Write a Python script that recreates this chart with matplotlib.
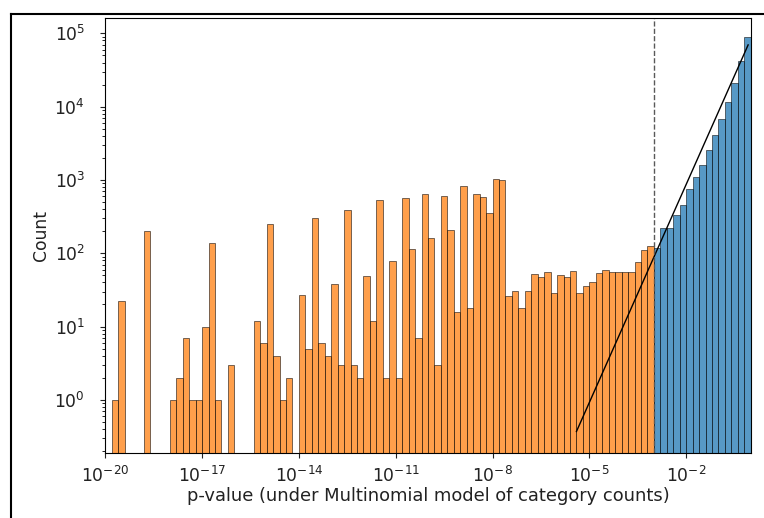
import numpy as np
import matplotlib
matplotlib.use("Agg")
import matplotlib.pyplot as plt
from matplotlib.lines import Line2D
from matplotlib.ticker import NullLocator

# histogram of p-values, 100 log-spaced bins between 1e-20 and 1
bin_lo, bin_hi, n_bins = -20, 0, 100
counts = [
    0, 1, 22, 0, 0, 0, 200, 0, 0, 0,
    1, 2, 7, 1, 1, 10, 140, 1, 0, 3,
    0, 0, 0, 12, 6, 250, 4, 1, 2, 0,
    27, 5, 300, 6, 4, 38, 3, 390, 3, 2,
    49, 12, 525, 2, 79, 2, 570, 116, 7, 645,
    162, 3, 612, 210, 16, 820, 18, 640, 585, 352,
    1030, 1000, 26, 31, 18, 31, 52, 48, 55, 29,
    50, 47, 57, 29, 36, 40, 53, 59, 55, 55,
    55, 55, 75, 110, 125, 118, 220, 220, 334, 457,
    750, 1110, 1610, 2570, 4120, 6800, 11400, 20900, 42200, 90400,
]
threshold = 1e-3

# expected counts under uniform p (black line)
line_x = [10**-5.4, 10**-0.08]
line_y = [0.37, 69500]

edges = np.logspace(bin_lo, bin_hi, n_bins + 1)
counts = np.array(counts)
left = edges[:-1]
width = np.diff(edges)
keep = counts > 0
sig = left < threshold * 0.999

fig = plt.figure(figsize=(7.64, 5.18), dpi=100)
ax = fig.add_axes([0.1378, 0.126, 0.8448, 0.8393])

ax.bar(left[keep & sig], counts[keep & sig], width=width[keep & sig], align="edge",
       color="C1", alpha=0.75, edgecolor="k", linewidth=0.5)
ax.bar(left[keep & ~sig], counts[keep & ~sig], width=width[keep & ~sig], align="edge",
       color="C0", alpha=0.75, edgecolor="k", linewidth=0.5)

ax.plot(line_x, line_y, color="k", linewidth=1)
ax.axvline(threshold, color="0.35", linestyle="--", linewidth=1)

ax.set_xscale("log")
ax.set_yscale("log")
ax.set_xlim(10.0**bin_lo, 10.0**bin_hi)
ax.set_ylim(0.19, 1.62e5)
ax.set_xticks([10.0**k for k in range(-20, 1, 3)])
ax.xaxis.set_minor_locator(NullLocator())
ax.tick_params(labelsize=12.3, colors="#222222")
ax.tick_params(axis="x", pad=6)
ax.tick_params(axis="y", pad=11)
ax.set_xlabel("p-value (under Multinomial model of category counts)", fontsize=12.9,
              color="#222222", labelpad=1)
ax.set_ylabel("Count", fontsize=12.3, color="#222222", labelpad=3)

# screenshot frame
fig.add_artist(Line2D([11/764, 1], [1 - 14/518, 1 - 14/518], color="k", linewidth=1.5))
fig.add_artist(Line2D([11/764, 11/764], [0, 1 - 14/518], color="k", linewidth=1.5))

fig.savefig("out.png", dpi=100)
